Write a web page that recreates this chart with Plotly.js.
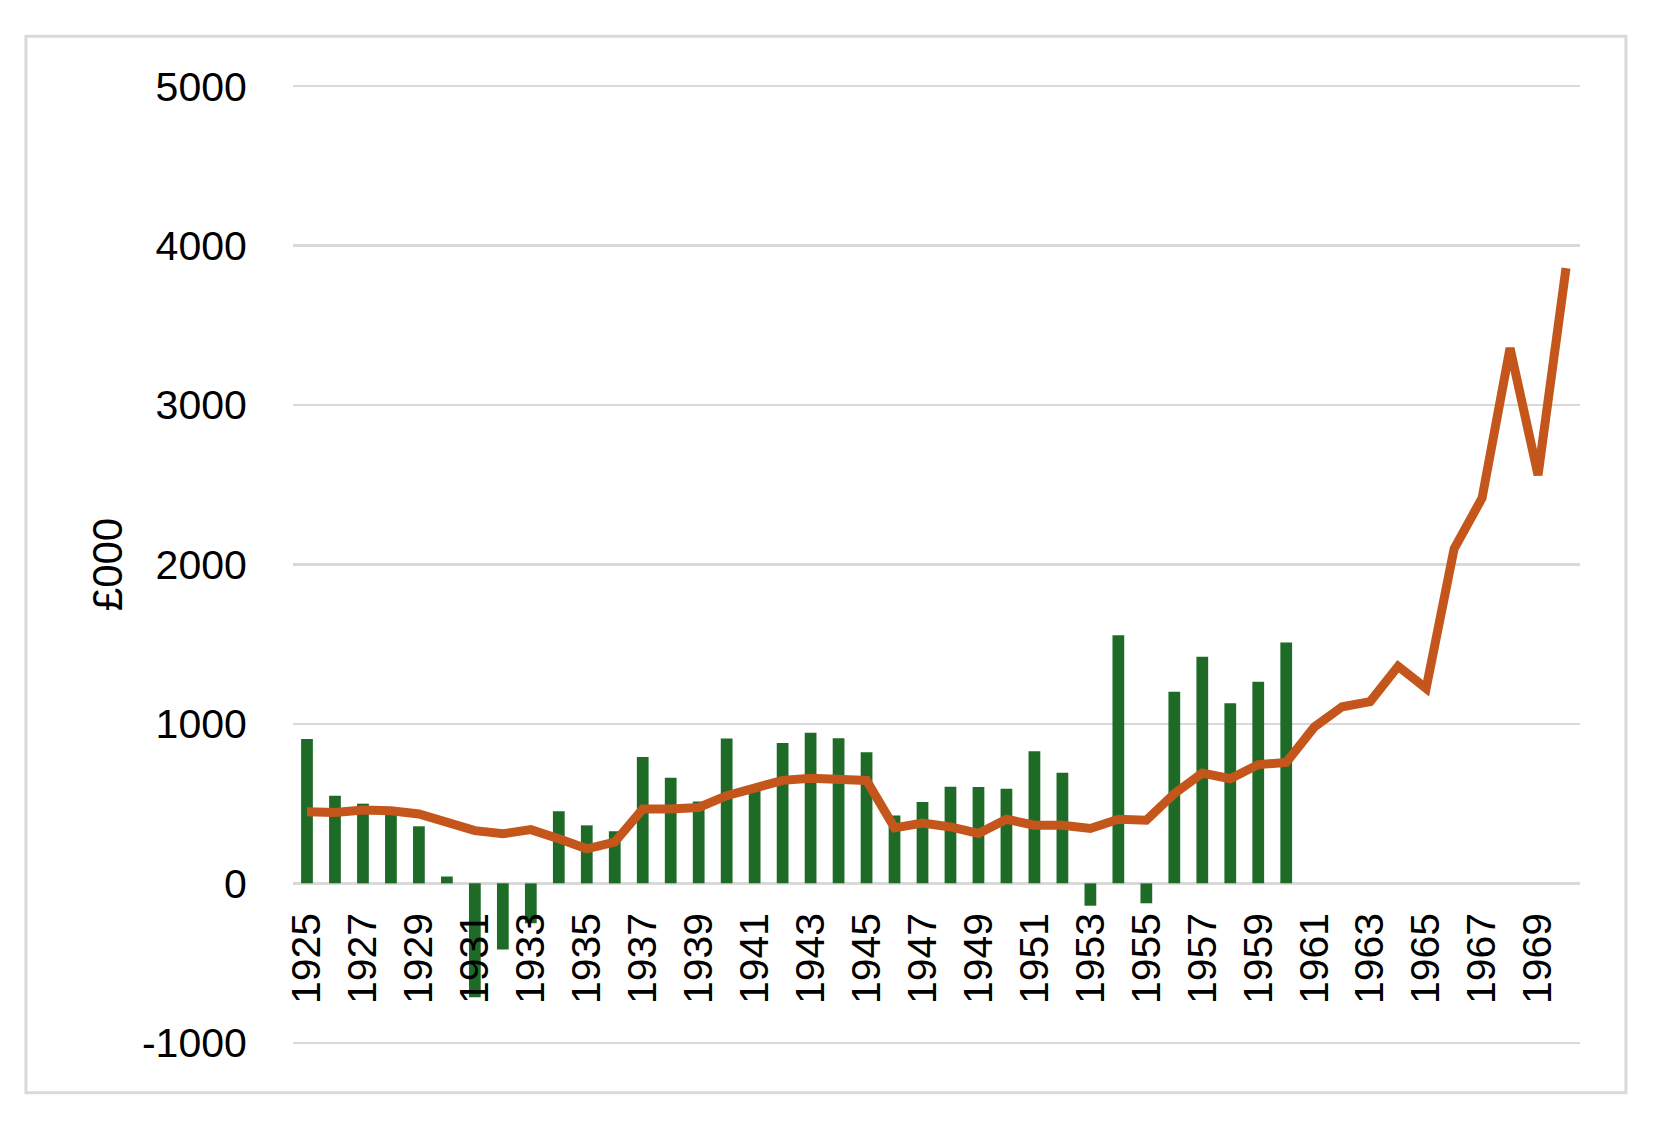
<!DOCTYPE html>
<html>
<head>
<meta charset="utf-8">
<script src="https://cdn.plot.ly/plotly-3.0.1.min.js"></script>
<style>
  html, body { margin: 0; padding: 0; background: #fff; }
  #chart { width: 1665px; height: 1129px; }
</style>
</head>
<body>
<div id="chart"></div>
<script>
// years on the category axis
const years = [];
for (let y = 1925; y <= 1970; y++) years.push(String(y));

// green bars, 1925-1960 (£000)
const barYears = years.slice(0, 36);
const barValues = [
  905, 549, 500, 460, 358, 43, -715, -415, -250, 453,
  364, 327, 793, 663, 513, 908, 580, 881, 944, 910,
  823, 425, 510, 606, 604, 594, 829, 694, -140, 1556,
  -125, 1202, 1422, 1129, 1265, 1510
];

// orange line, 1925-1970 (£000)
const lineValues = [
  449, 445, 460, 455, 435, 385, 331, 311, 337, 280,
  217, 259, 466, 466, 476, 550, 604, 646, 660, 652,
  646, 348, 379, 354, 313, 402, 365, 365, 344, 402,
  396, 563, 692, 656, 745, 758, 980, 1108, 1140, 1362,
  1223, 2098, 2417, 3357, 2561, 3859
];

// every second year gets a label
const tickYears = years.filter((y, i) => i % 2 === 0);
const yTicks = [-1000, 0, 1000, 2000, 3000, 4000, 5000];

const bars = {
  type: 'bar',
  x: barYears,
  y: barValues,
  marker: { color: '#1d6b27' },
  hoverinfo: 'x+y'
};

const line = {
  type: 'scatter',
  mode: 'lines',
  x: years,
  y: lineValues,
  line: { color: '#c5561b', width: 9 },
  hoverinfo: 'x+y'
};

const font = { family: '"Liberation Sans", Arial, sans-serif', size: 41, color: '#000' };

const layout = {
  width: 1665,
  height: 1129,
  margin: { l: 293, r: 85, t: 83, b: 83 },
  paper_bgcolor: '#fff',
  plot_bgcolor: '#fff',
  showlegend: false,
  bargap: 0.58,
  font: font,
  xaxis: {
    type: 'category',
    categoryorder: 'array',
    categoryarray: years,
    range: [-0.5, years.length - 0.5],
    tickmode: 'array',
    tickvals: tickYears,
    ticktext: tickYears,
    tickangle: -90,
    ticks: 'outside',
    ticklen: 10,
    tickcolor: 'rgba(0,0,0,0)',
    showgrid: false,
    showline: false,
    zeroline: false,
    anchor: 'free',
    position: 1 / 6,
    tickfont: font
  },
  yaxis: {
    range: [-1020, 5020],
    tickmode: 'array',
    tickvals: yTicks,
    ticktext: yTicks.map(String),
    showgrid: true,
    gridcolor: '#d9d9d9',
    gridwidth: 2.5,
    zeroline: true,
    zerolinecolor: '#d9d9d9',
    zerolinewidth: 2.5,
    showline: false,
    ticks: 'outside',
    ticklen: 37,
    tickcolor: 'rgba(0,0,0,0)',
    tickfont: font,
    title: { text: '£000', font: { family: font.family, size: 42, color: '#000' }, standoff: 6 }
  },
  shapes: [{
    type: 'rect',
    xref: 'paper', yref: 'paper',
    x0: -0.2075, x1: 1.0357,
    y0: -0.0485, y1: 1.0485,
    line: { color: '#d9d9d9', width: 3 },
    fillcolor: 'rgba(0,0,0,0)',
    layer: 'below'
  }]
};

Plotly.newPlot('chart', [bars, line], layout, { displayModeBar: false, staticPlot: true });
</script>
</body>
</html>
